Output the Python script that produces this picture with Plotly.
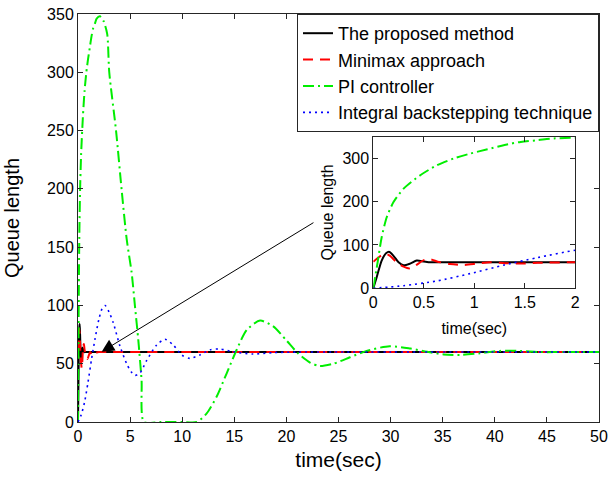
import plotly.graph_objects as go

# Queue length responses of the four controllers (time in seconds)
t_proposed = [0, 0.033, 0.083, 0.126, 0.16, 0.2, 0.25, 0.3, 0.365, 0.43, 0.5, 0.565, 0.7, 1.0, 2.0, 10, 20, 30, 40, 50]
q_proposed = [0, 25, 64, 81, 84, 75, 60, 53, 57, 64, 62, 60, 60, 60, 60, 60, 60, 60, 60, 60]

t_minimax = [0, 0.05, 0.116, 0.166, 0.23, 0.3, 0.36, 0.415, 0.5, 0.565, 0.63, 0.76, 0.9, 1.03, 1.16, 1.3, 1.46, 1.63, 2.0, 3.0, 10, 20, 30, 40, 50]
q_minimax = [61, 71, 80, 75, 60, 50, 46, 52, 65, 67, 62, 56, 54, 57, 60, 58, 57, 59, 60, 60, 60, 60, 60, 60, 60]

t_pi = [0, 0.04, 0.083, 0.133, 0.2, 0.3, 0.465, 0.63, 0.8, 0.96, 1.13, 1.3, 1.46, 1.63, 1.79, 2.1,
        2.45, 2.8, 3.0, 3.65, 4.19, 4.67, 5.15, 5.47, 5.79, 6.1, 6.33, 8.0, 10.0, 11.39, 12.35,
        13.3, 14.27, 15.23, 16.2, 17.47, 18.74, 20.0, 21.1, 22.27, 23.2, 24.5, 26.1, 27.7, 29.9,
        31.9, 33.5, 35.1, 36.7, 38.6, 40.5, 42.4, 44.3, 47.0, 50]
q_pi = [0, 56, 118, 164, 199, 230, 261, 284, 300, 311, 321, 331, 338, 342, 346, 348,
        344, 333, 300, 250, 199, 157, 128, 99, 70, 36, 0, 0, 0, 0, 7.4,
        21.7, 41.8, 62, 79, 87, 82, 70, 59, 51, 48, 50, 55.5, 61, 65,
        63, 60.3, 58, 57.5, 59, 61, 61, 60, 60, 60]

t_backstep = [0, 0.3, 0.63, 0.96, 1.3, 1.63, 2.0, 2.3, 2.6, 3.0, 3.39, 4.03, 4.67, 5.1, 5.47, 5.95,
              6.6, 7.55, 8.35, 9.15, 9.95, 10.75, 11.7, 12.7, 13.6, 14.9, 16.8, 18.7, 21.0, 30, 40, 50]
q_backstep = [0, 6, 17, 34, 54, 71, 88, 97, 100, 94, 85, 65, 50, 43, 40, 42,
              53, 66, 71, 66, 57.5, 54.6, 57.5, 62, 62.6, 60.3, 58.3, 59.5, 60, 60, 60, 60]

series_names = ["The proposed method", "Minimax approach", "PI controller", "Integral backstepping technique"]

x_ticks = [0, 5, 10, 15, 20, 25, 30, 35, 40, 45, 50]
y_ticks = [0, 50, 100, 150, 200, 250, 300, 350]
inset_x_ticks = [0, 0.5, 1, 1.5, 2]
inset_y_ticks = [0, 100, 200, 300]

FONT = "Liberation Sans, Arial, sans-serif"
AXIS_COLOR = "#262626"

styles = [
    dict(color="black", width=2, dash="solid"),
    dict(color="red", width=2, dash="10px,7px"),
    dict(color="#00ee00", width=2, dash="11px,4px,2px,4px"),
    dict(color="blue", width=1.6, dash="2px,4px"),
]
data = [(t_proposed, q_proposed), (t_minimax, q_minimax), (t_pi, q_pi), (t_backstep, q_backstep)]

fig = go.Figure()

# main panel
for name, (t, q), st in zip(series_names, data, styles):
    fig.add_trace(go.Scatter(x=t, y=q, mode="lines", name=name,
                             line=dict(shape="spline", smoothing=0.7, **st),
                             xaxis="x", yaxis="y"))

# zoomed panel over the first two seconds
for name, (t, q), st in zip(series_names, data, styles):
    fig.add_trace(go.Scatter(x=t, y=q, mode="lines", name=name, showlegend=False,
                             line=dict(shape="spline", smoothing=0.7, **st),
                             xaxis="x2", yaxis="y2"))

axis_common = dict(showgrid=False, zeroline=False, showline=True, linecolor=AXIS_COLOR,
                   linewidth=1, mirror="ticks", ticks="inside", ticklen=5, automargin=False,
                   tickcolor=AXIS_COLOR, tickfont=dict(family=FONT, size=16, color="black"))

fig.update_layout(
    width=608, height=477,
    margin=dict(l=78, r=9, t=14, b=55),
    paper_bgcolor="white", plot_bgcolor="white",
    font=dict(family=FONT, color="black"),
    xaxis=dict(range=[0, 50], tickvals=x_ticks, domain=[0, 1], anchor="y",
               title=dict(text="time(sec)", font=dict(size=21), standoff=8), **axis_common),
    yaxis=dict(range=[0, 350], tickvals=y_ticks, domain=[0, 1], anchor="x",
               title=dict(text="Queue length", font=dict(size=20), standoff=22), **axis_common),
    xaxis2=dict(range=[0, 2], tickvals=inset_x_ticks, ticktext=["0", "0.5", "1", "1.5", "2"],
                domain=[0.5668, 0.9545], anchor="y2",
                title=dict(text="time(sec)", font=dict(size=16), standoff=12), **axis_common),
    yaxis2=dict(range=[0, 350], tickvals=inset_y_ticks, domain=[0.3277, 0.6993], anchor="x2",
                title=dict(text="Queue length", font=dict(size=16), standoff=4), **axis_common),
    legend=dict(x=1, y=1, xanchor="right", yanchor="top", bgcolor="white",
                bordercolor=AXIS_COLOR, borderwidth=1,
                font=dict(family=FONT, size=18, color="black"),
                tracegroupgap=0, itemwidth=30),
    showlegend=True,
)

# arrow pointing from the zoomed panel to the start-up region
fig.add_annotation(x=2.27, y=60.3, ax=22.74, ay=171.8, xref="x", yref="y", axref="x", ayref="y",
                   text="", showarrow=True, arrowhead=2, arrowsize=2.5, arrowwidth=1, arrowcolor="black")

fig.write_html("out.html")
